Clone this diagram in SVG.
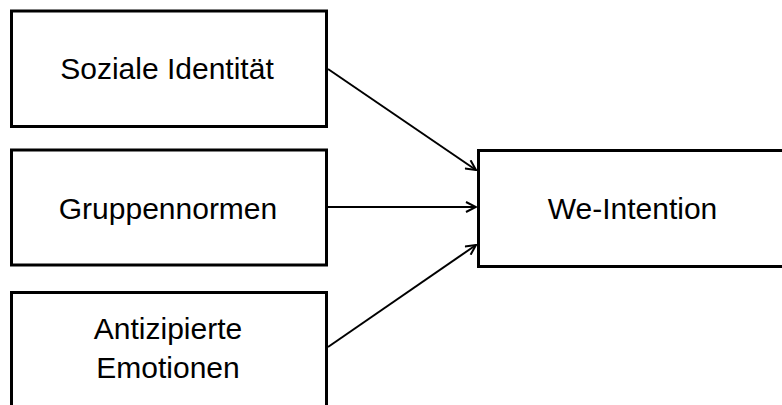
<svg xmlns="http://www.w3.org/2000/svg" width="782" height="405" viewBox="0 0 782 405">
<style>
.box{fill:#fff;stroke:#000;stroke-width:3}
.lbl{font-family:"Liberation Sans",Arial,sans-serif;font-size:30px;fill:#000;text-anchor:middle}
.edge{stroke:#000;stroke-width:2;fill:none}
</style>
<defs>
<marker id="arr" viewBox="0 0 12 12" refX="11" refY="6" markerWidth="12" markerHeight="12" markerUnits="userSpaceOnUse" orient="auto">
<path d="M1,1 L11,6 L1,11" fill="none" stroke="#000" stroke-width="2"/>
</marker>
</defs>
<rect width="782" height="405" fill="#fff"/>
<g id="n1"><rect class="box" x="11.5" y="11" width="315" height="115.5"/><text class="lbl" x="167" y="78.5">Soziale Identität</text></g>
<g id="n2"><rect class="box" x="11.5" y="150" width="315" height="115"/><text class="lbl" x="168" y="218.5">Gruppennormen</text></g>
<g id="n3"><rect class="box" x="11.5" y="292.5" width="315" height="130"/><text class="lbl" x="168" y="338.5">Antizipierte</text><text class="lbl" x="168" y="378">Emotionen</text></g>
<g id="n4"><rect class="box" x="478.5" y="150.5" width="320" height="116"/><text class="lbl" x="632.5" y="218.5">We-Intention</text></g>
<g id="edges">
<line class="edge" x1="328" y1="69" x2="476" y2="170" marker-end="url(#arr)"/>
<line class="edge" x1="328" y1="207" x2="476" y2="207" marker-end="url(#arr)"/>
<line class="edge" x1="328" y1="347" x2="476" y2="245" marker-end="url(#arr)"/>
</g>
</svg>
